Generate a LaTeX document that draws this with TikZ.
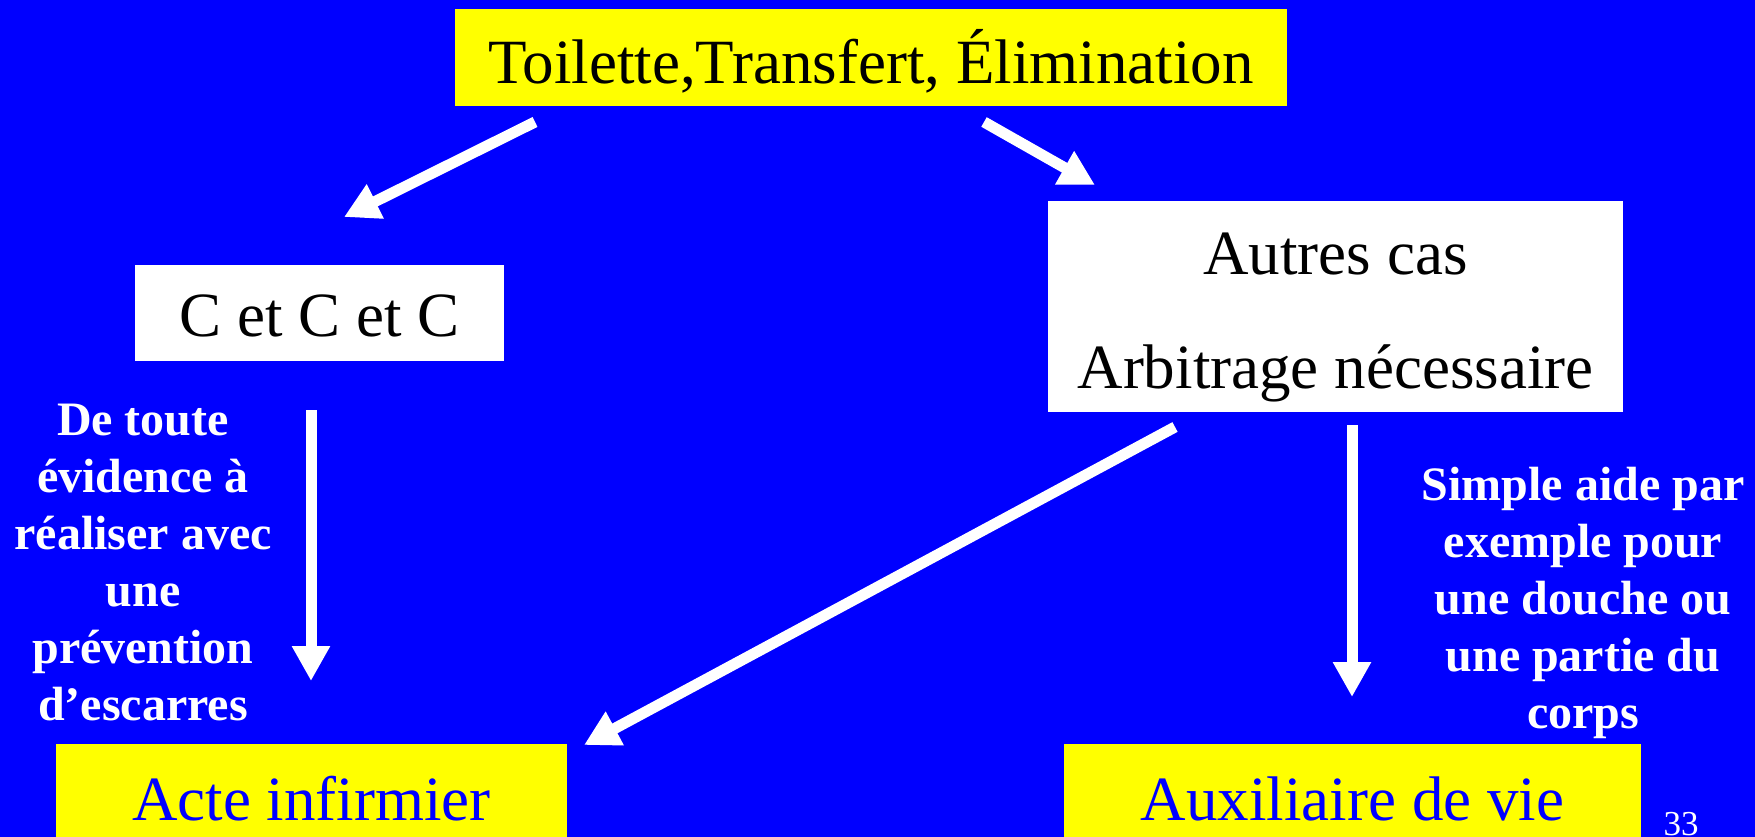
\documentclass[tikz,border=0pt]{standalone}
\usepackage{fontspec}
\setmainfont{Liberation Serif}
\usetikzlibrary{arrows.meta}
\definecolor{bgblue}{RGB}{0,0,255}
\definecolor{boxyellow}{RGB}{255,255,0}
\tikzset{
  bigfont/.style={font=\fontsize{63}{70}\selectfont},
  ybox/.style={fill=boxyellow, draw=none, inner sep=0pt, bigfont},
  wbox/.style={fill=white, draw=none, inner sep=0pt, bigfont},
  lbl/.style={text=white, align=center, inner sep=0pt, anchor=north,
    font=\fontsize{48}{57}\selectfont\bfseries},
  arr/.style={draw=white, line width=11pt, -{Triangle[width=36pt,length=35pt]}}
}
\begin{document}
\begin{tikzpicture}[x=1pt,y=-1pt]
\useasboundingbox (0,0) rectangle (1755,837);
\fill[bgblue] (0,0) rectangle (1755,837);

% boxes
\node[ybox, minimum width=832pt, minimum height=97pt, text height=65pt, text depth=12pt]
  (top) at (871,57.5) {Toilette,Transfert, Élimination};
\node[wbox, minimum width=369pt, minimum height=96pt, text height=58pt, text depth=12pt]
  (ccc) at (319.5,313) {C et C et C};
\node[wbox, minimum width=575pt, minimum height=211pt] (autres) at (1335.5,306.5) {};
\node[bigfont, anchor=base, inner sep=0pt] (autres1) at (1335.5,274) {Autres cas};
\node[bigfont, anchor=base, inner sep=0pt] (autres2) at (1335.5,388) {Arbitrage nécessaire};
\node[ybox, text=bgblue, minimum width=511pt, minimum height=106pt, text height=58pt, text depth=12pt]
  (acte) at (311.5,797) {Acte infirmier};
\node[ybox, text=bgblue, minimum width=577pt, minimum height=106pt, text height=58pt, text depth=12pt]
  (aux) at (1352.5,797) {Auxiliaire de vie};

% labels
\node[lbl] (lblleft) at (143,399)
  {\rule{0pt}{36pt}De toute\\évidence à\\réaliser avec\\une\\prévention\\d’escarres};
\node[lbl] (lblright) at (1583,464)
  {\rule{0pt}{36pt}Simple aide par\\exemple pour\\une douche ou\\une partie du\\corps};
\node[text=white, anchor=base, inner sep=0pt, font=\fontsize{35}{40}\selectfont] (pnum) at (1681,835.5) {33};

% connector end points
\coordinate (a1s) at (535,122);
\coordinate (a1e) at (344,217);
\coordinate (a2s) at (984,122);
\coordinate (a2e) at (1095,185);
\coordinate (a3s) at (311,410);
\coordinate (a3e) at (311,681);
\coordinate (a4s) at (1175,427);
\coordinate (a4e) at (584,745);
\coordinate (a5s) at (1352,425);
\coordinate (a5e) at (1352,697);

\draw[arr] (a1s) -- (a1e);
\draw[arr] (a2s) -- (a2e);
\draw[arr] (a3s) -- (a3e);
\draw[arr] (a4s) -- (a4e);
\draw[arr] (a5s) -- (a5e);
\end{tikzpicture}
\end{document}
